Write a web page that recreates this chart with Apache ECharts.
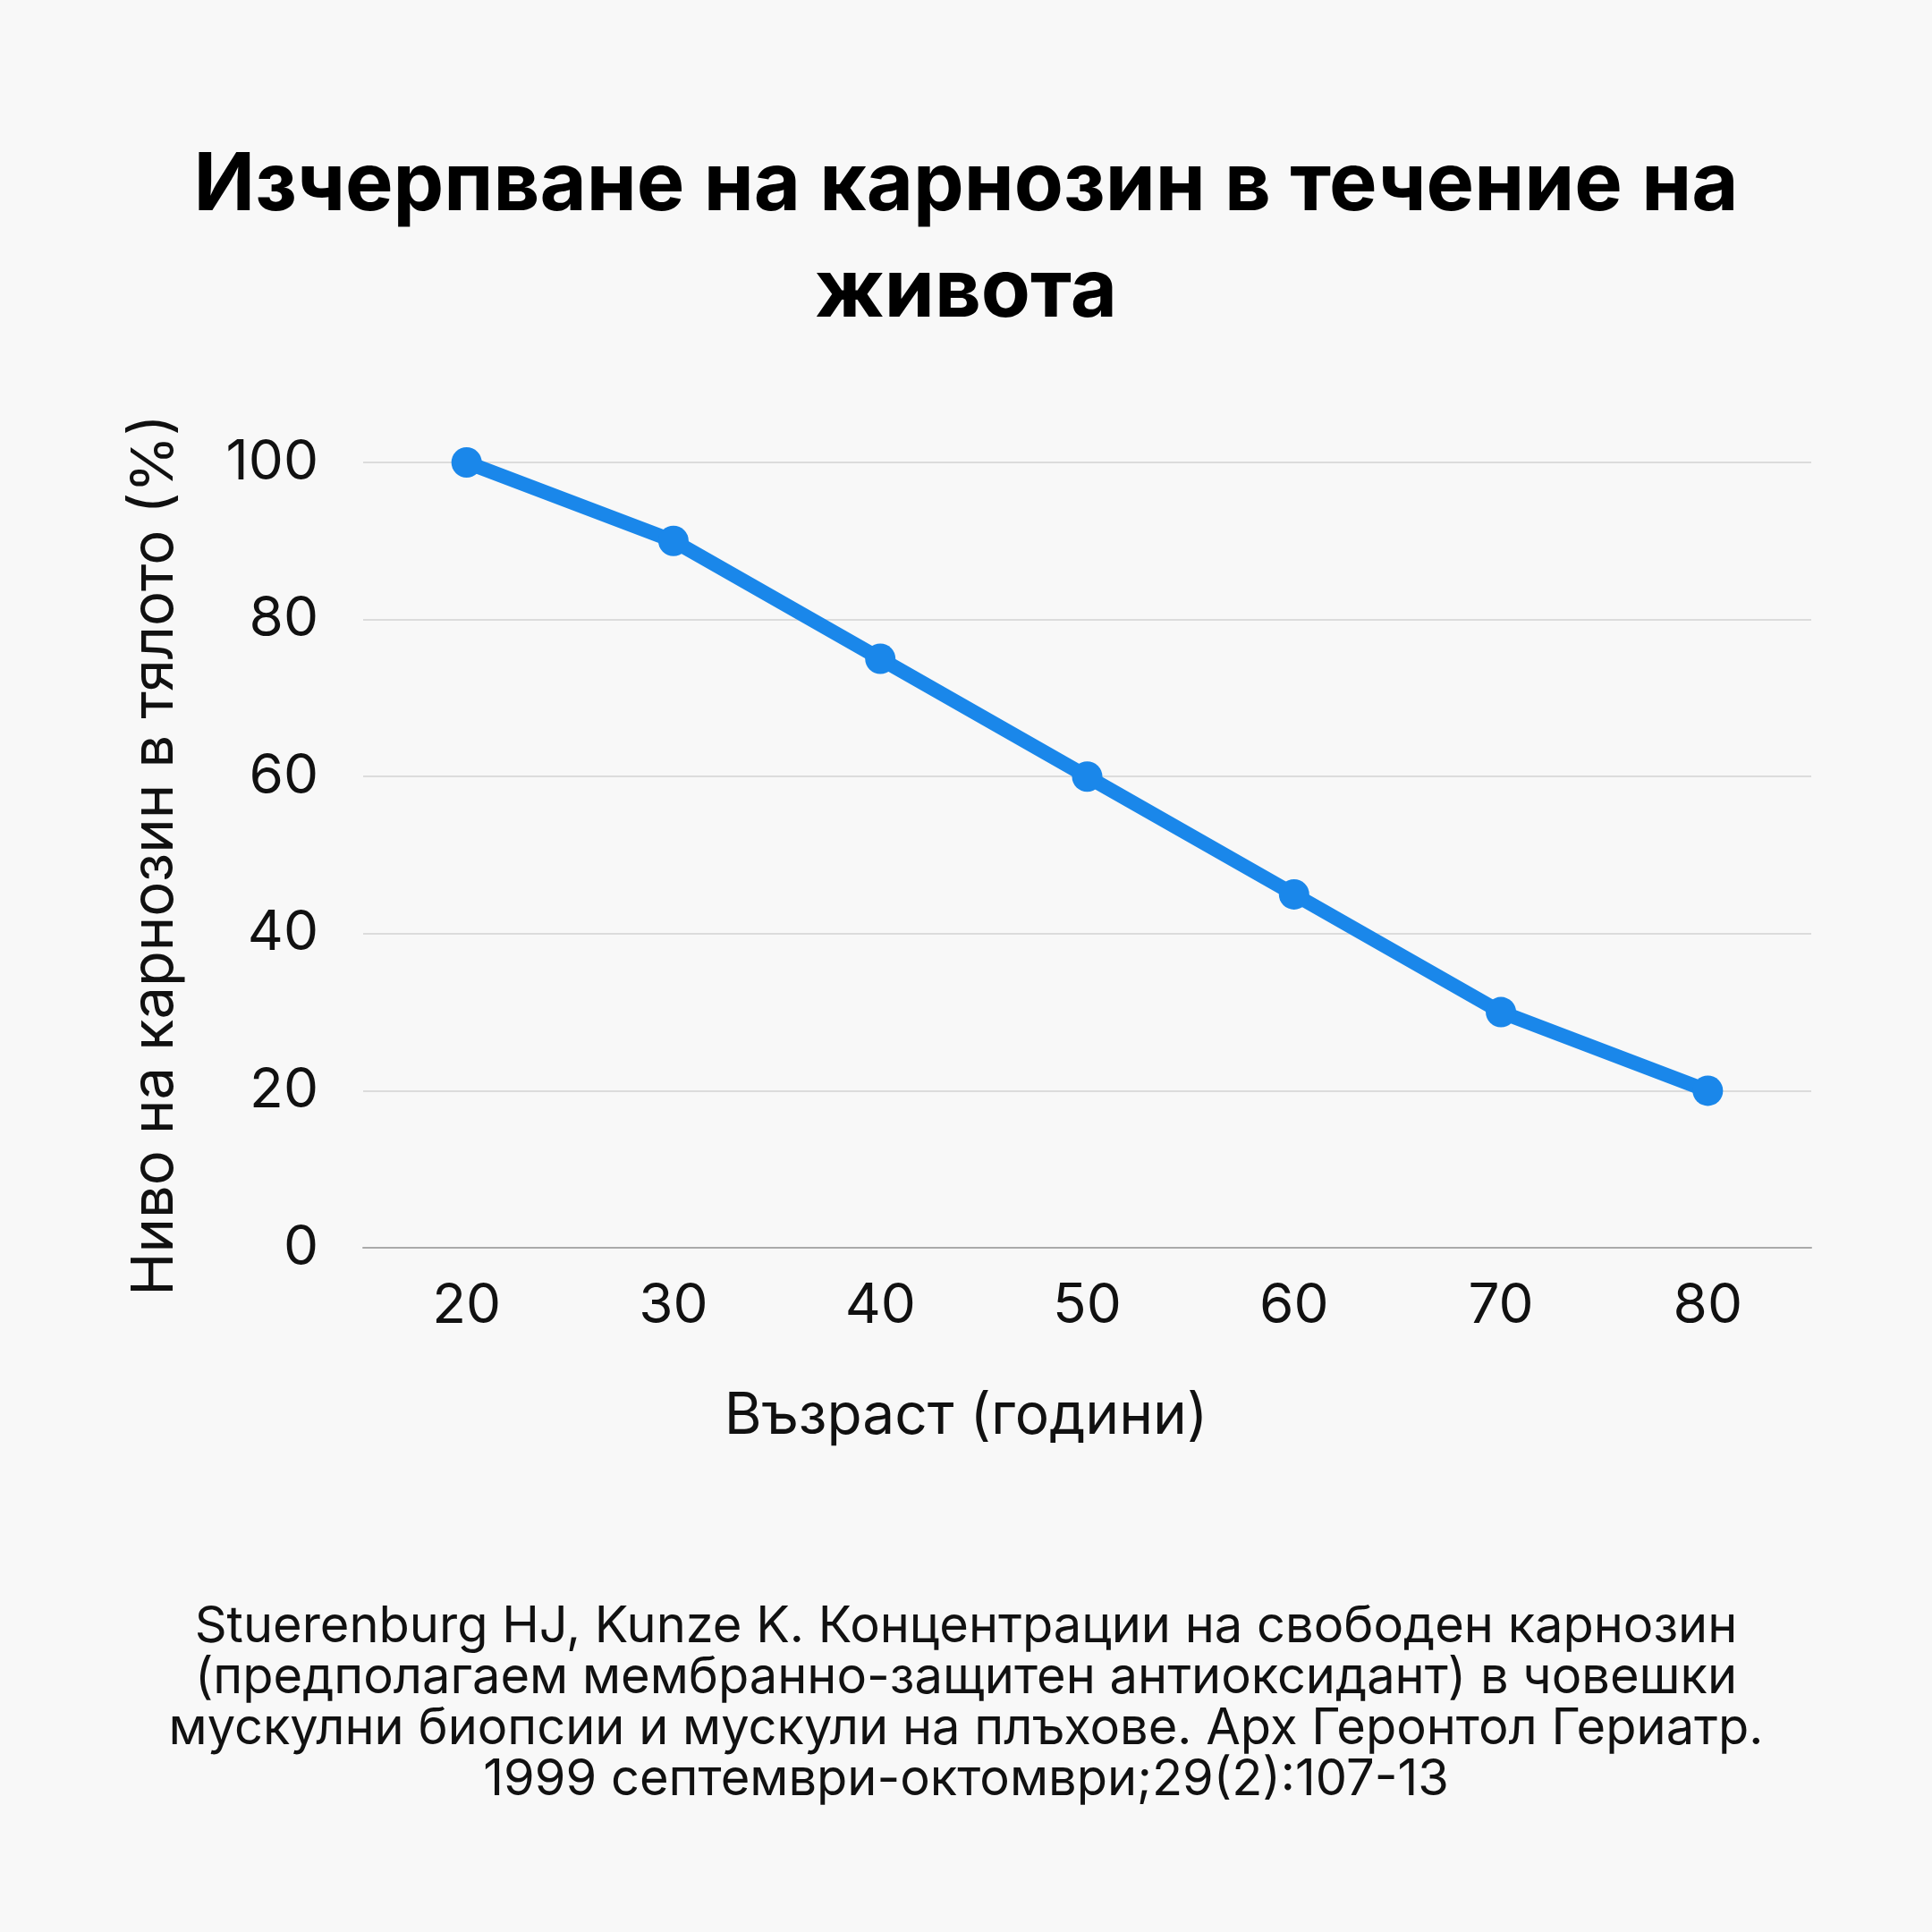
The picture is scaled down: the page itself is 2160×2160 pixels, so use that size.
<!DOCTYPE html>
<html><head><meta charset="utf-8">
<script src="https://cdn.jsdelivr.net/npm/echarts@6/dist/echarts.min.js"></script>
<style>html,body{margin:0;background:#f8f8f8}#c{width:2160px;height:2160px}</style>
</head><body><div id="c"></div>
<script>
const ages = ['20','30','40','50','60','70','80'];
const carnosine = [100, 90, 75, 60, 45, 30, 20];
const yTicks = [0, 20, 40, 60, 80, 100];
const titleText = 'Изчерпване на карнозин в течение на\nживота';
const xName = 'Възраст (години)';
const sourceText = 'Stuerenburg HJ, Kunze K. Концентрации на свободен карнозин\n(предполагаем мембранно-защитен антиоксидант) в човешки\nмускулни биопсии и мускули на плъхове. Арх Геронтол Гериатр.\n1999 септември-октомври;29(2):107-13';
const chart = echarts.init(document.getElementById('c'));
const F = 'Inter, "Noto Sans", sans-serif';
chart.setOption({
  backgroundColor: '#f8f8f8',
  textStyle: {fontFamily: F},
  title: [{
    text: titleText, left: 'center', top: 143,
    textStyle: {fontFamily: F, fontSize: 90, fontWeight: 'bold', color: '#000', lineHeight: 119}
  }, {
    text: xName, left: 'center', top: 1547,
    textStyle: {fontFamily: F, fontSize: 64, fontWeight: 'normal', color: '#111'}
  }, {
    text: sourceText, left: 'center', top: 1786,
    textStyle: {fontFamily: F, fontSize: 56, fontWeight: 'normal', color: '#111', lineHeight: 57}
  }],
  grid: {left: 406, right: 135, top: 517, bottom: 765},
  xAxis: {
    type: 'category', data: ages, boundaryGap: true,
    axisLine: {lineStyle: {color: '#aaa', width: 2}}, axisTick: {show: false},
    axisLabel: {fontSize: 62, color: '#111', margin: 34}
  },
  yAxis: {
    type: 'value', min: yTicks[0], max: yTicks[yTicks.length-1], interval: 20,
    name: 'Ниво на карнозин в тялото (%)', nameLocation: 'middle', nameGap: 200,
    nameTextStyle: {fontSize: 65, color: '#111'},
    axisLabel: {fontSize: 62, color: '#111', margin: 50},
    splitLine: {lineStyle: {color: '#dcdcdc', width: 2}}
  },
  series: [{
    type: 'line', data: carnosine, symbol: 'circle', symbolSize: 34,
    lineStyle: {width: 16, color: '#1a87ea'}, itemStyle: {color: '#1a87ea'}
  }]
});
</script></body></html>
